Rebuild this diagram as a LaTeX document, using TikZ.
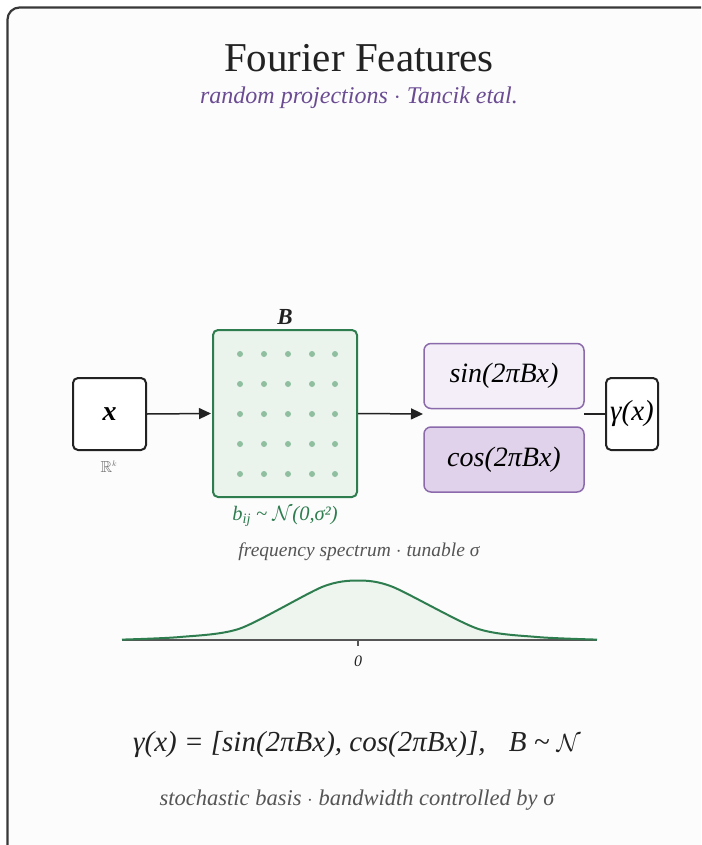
\documentclass[tikz,border=0pt]{standalone}
\usepackage{fontspec}
\usepackage{amssymb}
\setmainfont{Liberation Serif}
\usetikzlibrary{arrows.meta}
\definecolor{ink}{HTML}{222222}
\definecolor{greytxt}{HTML}{555555}
\definecolor{purptxt}{HTML}{6B4C93}
\definecolor{grn}{HTML}{2E7D4F}
\definecolor{grnfill}{HTML}{EAF3EC}
\definecolor{grndot}{HTML}{8FBF9F}
\definecolor{curvefillc}{HTML}{EEF5EF}
\definecolor{purpline}{HTML}{8A6AAA}
\definecolor{sinfill}{HTML}{F3EEF8}
\definecolor{cosfill}{HTML}{E1D2EC}
\definecolor{bgc}{HTML}{FCFCFC}
\begin{document}
\begin{tikzpicture}[x=1pt,y=-1pt,
  blackbox/.style={draw=ink, line width=2pt, fill=white, rounded corners=5pt, inner sep=0pt},
  matbox/.style={draw=grn, line width=2pt, fill=grnfill, rounded corners=5pt, inner sep=0pt},
  sinbox/.style={draw=purpline, line width=1.5pt, fill=sinfill, rounded corners=7pt, inner sep=0pt, minimum width=160pt, minimum height=65pt},
  cosbox/.style={sinbox, fill=cosfill},
  arr/.style={draw=ink, line width=1.5pt, -{Triangle[length=12pt,width=11pt]}},
  conn/.style={draw=ink, line width=1.5pt},
  gdot/.style={fill=grndot, circle, inner sep=0pt, minimum size=6pt}
]
\useasboundingbox (0,0) rectangle (701,845);
\clip (0,0) rectangle (701,845);
\fill[white] (0,0) rectangle (701,845);
\draw[draw=ink!90, line width=2.2pt, fill=bgc, rounded corners=12pt] (7.5,7.5) rectangle (740,880);

% titles
\node[text=ink, font=\fontsize{41}{44}\selectfont] (title) at (359,58) {Fourier Features};
\node[text=purptxt, font=\fontsize{24}{26}\selectfont\itshape] (sub) at (359,98) {random projections $\cdot$ Tancik etal.};

% input
\node[blackbox, minimum width=73pt, minimum height=72pt] (x) at (109.5,414) {\fontsize{28}{30}\selectfont\bfseries\itshape x};
\node[text=greytxt!85, font=\fontsize{16}{18}\selectfont] (rk) at (109,467) {$\mathbb{R}^{\scriptscriptstyle k}$};

% matrix B
\node[matbox, minimum width=144pt, minimum height=167pt] (B) at (285,413.5) {};
\node[text=ink, font=\fontsize{23}{25}\selectfont\bfseries\itshape] (Blab) at (285,317) {B};
\foreach \i/\xx in {1/240,2/264,3/288,4/312,5/335}{
  \foreach \j/\yy in {1/354,2/384,3/414,4/444,5/474}{
    \node[gdot] (d\i\j) at (\xx,\yy) {};
  }
}
\node[text=grn, font=\fontsize{20.5}{22}\selectfont\itshape] (bij) at (285,516) {b$_{\mathit{ij}}$ \textasciitilde{} $\mathcal{N}$(0,σ²)};

% sin / cos
\node[sinbox] (sin) at (504,376) {\fontsize{28}{30}\selectfont\itshape sin(2πBx)};
\node[cosbox] (cos) at (504,459.5) {\fontsize{28}{30}\selectfont\itshape cos(2πBx)};
\coordinate (split) at (423,414);
\coordinate (join) at (584,414);

% output
\node[blackbox, minimum width=52pt, minimum height=72pt] (g) at (632,414) {\fontsize{29}{31}\selectfont\itshape γ(x)};

\draw[arr] (x.east) -- ([xshift=-1pt]B.west);
\draw[arr] (B.east) -- (split);
\draw[conn] (join) -- (g.west);

% spectrum
\node[text=greytxt, font=\fontsize{19.5}{21}\selectfont\itshape] (spec) at (359,552) {frequency spectrum $\cdot$ tunable σ};
\def\gausspts{(122,639.6) (180,637) (240,628.5) (322,587) (358,580.5) (393,587) (477,628.5) (537,637) (597,639.6)}
\fill[curvefillc] plot[smooth, tension=0.45] coordinates {\gausspts} -- (597,640) -- (122,640) -- cycle;
\draw[greytxt, line width=1.2pt] (122,640) coordinate (axl) -- (597,640) coordinate (axr);
\draw[grn, line width=2pt] plot[smooth, tension=0.45] coordinates {\gausspts};
\draw[greytxt, line width=1.2pt] (358,640) -- (358,646);
\node[text=ink, font=\fontsize{16}{18}\selectfont\itshape] (zero) at (358,661) {0};

% formula
\node[text=ink, font=\fontsize{29}{32}\selectfont\itshape] (formula) at (357,745) {γ(x) = [sin(2πBx), cos(2πBx)],\hspace{0.8em}B \textasciitilde{} $\mathcal{N}$};
\node[text=greytxt, font=\fontsize{22.5}{25}\selectfont\itshape] (foot) at (357,800) {stochastic basis $\cdot$ bandwidth controlled by σ};
\end{tikzpicture}
\end{document}
